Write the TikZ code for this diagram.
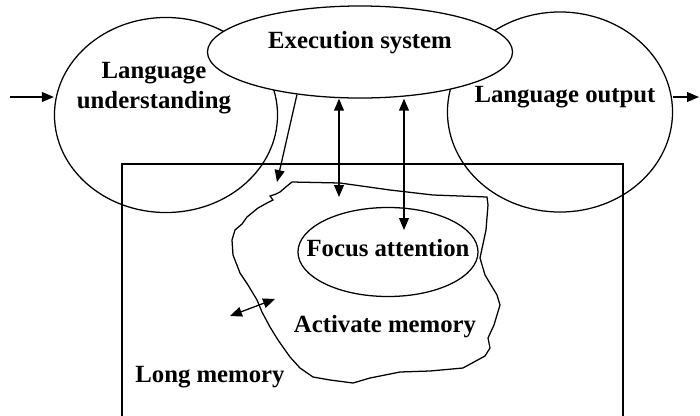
\documentclass[tikz,border=0pt]{standalone}
\usepackage{fontspec}
\setmainfont{Liberation Serif}
\usetikzlibrary{arrows.meta,shapes.geometric}

\begin{document}
\begin{tikzpicture}[x=0.025cm, y=-0.025cm, line width=0.9pt,
  every node/.style={font=\bfseries\fontsize{17.6}{21}\selectfont},
  oval/.style={ellipse, draw, inner sep=0pt},
  arr/.style={-{Triangle[length=8.5pt,width=7pt]}},
  darr/.style={{Triangle[length=8.5pt,width=7pt]}-{Triangle[length=8.5pt,width=7pt]}}]
  \useasboundingbox (0,0) rectangle (700,416);

  % long memory box
  \draw (122,416) |- (623,164) -- (623,416);
  \node (longmem) at (210,377) {Long memory};

  % language parts
  \node[oval, minimum width=5.575cm, minimum height=4.875cm] (lu) at (166,115) {};
  \node[align=center] (lutext) at (154,88) {Language\\understanding};
  \node[oval, minimum width=5.625cm, minimum height=5cm] (lo) at (560,112) {};
  \node (lotext) at (565,97) {Language output};

  % execution system
  \node[oval, fill=white, minimum width=7.625cm, minimum height=2.3cm] (exec) at (360,52) {};
  \node (exectext) at (360,43) {Execution system};

  % activate memory
  \draw (292,182) -- (340,183) -- (390,190) -- (433,195) -- (487,197) -- (488,205)
    -- (486,230) -- (480,258) -- (485,275) -- (497,295) -- (500,305) -- (494,325)
    -- (488,338) -- (490,348) -- (485,356) -- (463,368) -- (430,371) -- (400,372)
    -- (370,378) -- (353,383) -- (330,380) -- (313,377) -- (300,368) -- (290,357)
    -- (278,340) -- (270,327) -- (262,312) -- (257,300) -- (248,285) -- (240,273)
    -- (233,255) -- (232,240) -- (235,230) -- (242,224) -- (247,217) -- (258,208)
    -- (267,203) -- (273,200) -- (270,196) -- (276,194) -- (280,192) -- (287,186) -- cycle;
  \node (actmem) at (385,327) {Activate memory};
  \node[oval, minimum width=4.5cm, minimum height=2.225cm] (focus) at (388,252) {};
  \node (focustext) at (388,248) {Focus attention};

  % connectors
  \coordinate (in) at (10,97);
  \coordinate (out) at (699,97);
  \coordinate (down) at (277,182);
  \coordinate (a1) at (339,197);
  \coordinate (a2) at (404,230);
  \coordinate (m1) at (230,316);
  \coordinate (m2) at (275,299);
  \draw[arr] (in) -- (in -| lu.west);
  \draw[arr] (lo.east |- out) -- (out);
  \draw[arr] (exec.214) -- (down);
  \draw[darr] (exec.south -| a1) -- (a1);
  \draw[darr] (exec.south -| a2) -- (a2);
  \draw[darr] (m1) -- (m2);
\end{tikzpicture}
\end{document}
